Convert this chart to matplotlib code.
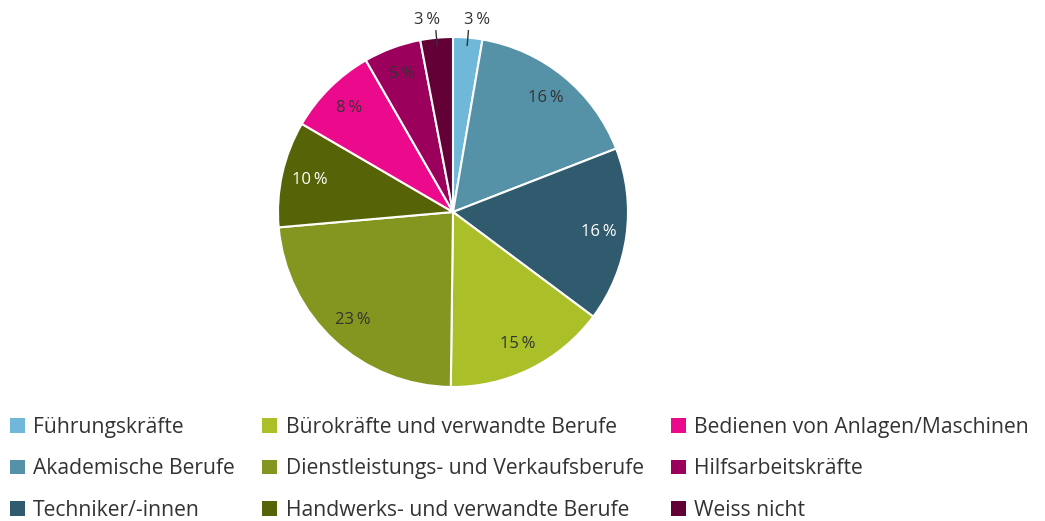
import matplotlib.pyplot as plt
from matplotlib.patches import Patch
import numpy as np

plt.rcParams['font.family'] = ['Open Sans', 'DejaVu Sans']

categories = ['Führungskräfte', 'Akademische Berufe', 'Techniker/-innen',
              'Bürokräfte und verwandte Berufe', 'Dienstleistungs- und Verkaufsberufe',
              'Handwerks- und verwandte Berufe', 'Bedienen von Anlagen/Maschinen',
              'Hilfsarbeitskräfte', 'Weiss nicht']
values = [2.7, 16.4, 16.1, 15.0, 23.4, 9.8, 8.3, 5.3, 3.0]
colors = ['#6fb8d9', '#5592a8', '#305b6e', '#aabf28', '#84961f',
          '#566407', '#ec0a8c', '#9b005c', '#630035']
light_text = [False, False, True, False, False, True, False, False, False]

fig = plt.figure(figsize=(10.45, 5.21), dpi=100)
ax = fig.add_axes([278 / 1045, 134 / 521, 350 / 1045, 350 / 521])

wedges, _ = ax.pie(values, colors=colors, startangle=90, counterclock=False,
                   wedgeprops=dict(edgecolor='white', linewidth=1.5))
ax.set_xlim(-1, 1)
ax.set_ylim(-1, 1)
ax.set_aspect('equal')
ax.axis('off')

for w, v, lt in zip(wedges, values, light_text):
    mid = np.deg2rad((w.theta1 + w.theta2) / 2)
    label = f'{round(v)}\u2009%'
    if v < 4:
        ax.plot([0.955 * np.cos(mid), 1.04 * np.cos(mid)],
                [0.955 * np.sin(mid), 1.04 * np.sin(mid)],
                color='#333333', lw=1, clip_on=False)
        shift = 0.045 if np.cos(mid) > 0 else -0.045
        ax.text(1.1 * np.cos(mid) + shift, 1.1 * np.sin(mid), label,
                ha='center', va='center', fontsize=12, color='#333333')
    else:
        ax.text(0.84 * np.cos(mid), 0.84 * np.sin(mid), label,
                ha='center', va='center', fontsize=12,
                color='white' if lt else '#333333')

handles = [Patch(facecolor=c, edgecolor='none') for c in colors]
fig.legend(handles, categories, ncol=3, loc='upper left',
           bbox_to_anchor=(10 / 1045, 1 - 417 / 521), frameon=False,
           fontsize=15.2, handlelength=0.7, handleheight=0.7,
           handletextpad=0.4, columnspacing=1.3, labelspacing=0.97,
           borderpad=0, borderaxespad=0, labelcolor='#333333')

fig.savefig('out.png', dpi=100)
